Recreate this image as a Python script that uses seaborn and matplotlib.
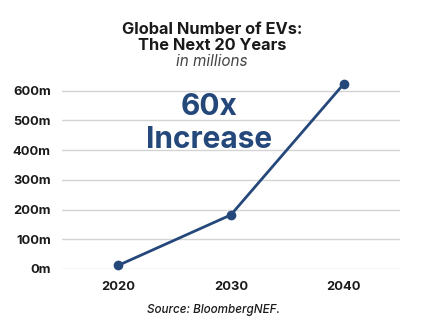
import matplotlib
matplotlib.use("Agg")
import matplotlib.pyplot as plt
import seaborn as sns
import pandas as pd

years = [2020, 2030, 2040]
evs_millions = [12, 182, 622]
y_ticks = [0, 100, 200, 300, 400, 500, 600]
y_tick_labels = ["0m", "100m", "200m", "300m", "400m", "500m", "600m"]
x_tick_labels = ["2020", "2030", "2040"]

sns.set_theme(style="white")
plt.rcParams['font.family'] = ['Inter', 'DejaVu Sans']

df = pd.DataFrame({"year": years, "evs": evs_millions})

fig = plt.figure(figsize=(4.24, 3.3), dpi=100)
ax = fig.add_axes([0.146, 0.185, 0.797, 0.585])

blue = "#25487b"
sns.lineplot(data=df, x="year", y="evs", ax=ax, color=blue, linewidth=2,
             marker="o", markersize=7, markeredgewidth=0, clip_on=False, zorder=3)

ax.set_xlim(2015, 2045)
ax.set_ylim(0, 650)
ax.set_yticks(y_ticks)
ax.set_yticklabels(y_tick_labels, fontsize=9.3, fontweight="bold", color="#1a1a1a")
ax.set_xticks(years)
ax.set_xticklabels(x_tick_labels, fontsize=9.3, fontweight="bold", color="#1a1a1a")
ax.tick_params(axis="y", length=0, pad=8)
ax.tick_params(axis="x", length=0, pad=9)
ax.set_xlabel("")
ax.set_ylabel("")
for s in ax.spines.values():
    s.set_visible(False)
ax.yaxis.grid(True, color="#d4d4d4", linewidth=1)
ax.set_axisbelow(True)

ax.text(2028.1, 546, "60x", ha="center", va="center", fontsize=21.5,
        fontweight="bold", color=blue)
ax.text(2028.1, 435, "Increase", ha="center", va="center", fontsize=21.5,
        fontweight="bold", color=blue)

fig.text(0.5, 1 - 29/330, "Global Number of EVs:", ha="center", va="center",
         fontsize=11.8, fontweight="bold", color="#1a1a1a")
fig.text(0.5, 1 - 45/330, "The Next 20 Years", ha="center", va="center",
         fontsize=11.8, fontweight="bold", color="#1a1a1a")
fig.text(0.5, 1 - 62/330, "in millions", ha="center", va="center",
         fontsize=11, fontstyle="italic", color="#444444")
fig.text(0.503, 1 - 310/330, "Source: BloombergNEF.", ha="center", va="center",
         fontsize=8.4, fontstyle="italic", fontweight="medium", color="#1a1a1a")

fig.savefig("out.png", dpi=100)
